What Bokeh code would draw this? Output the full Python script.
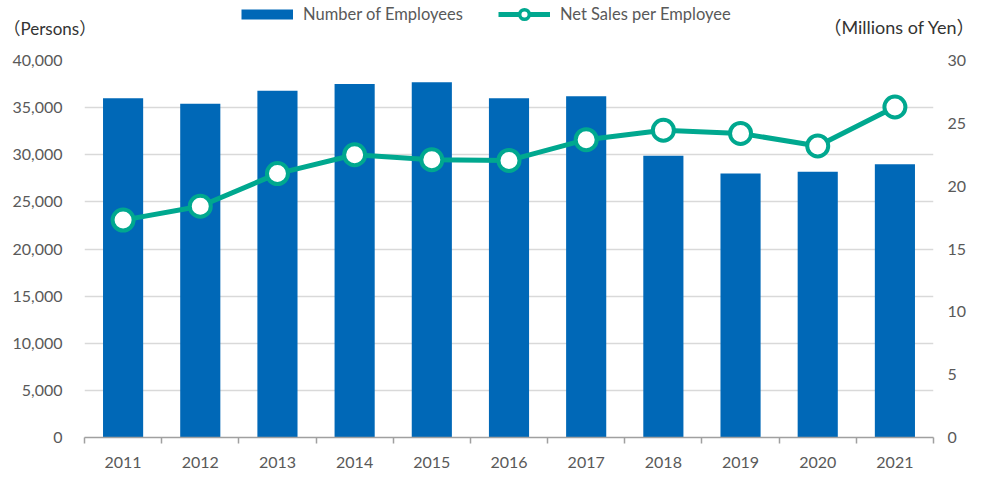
from bokeh.plotting import figure
from bokeh.layouts import column
from bokeh.models import (Range1d, LinearAxis, FixedTicker, NumeralTickFormatter,
                          Legend, LegendItem, Label, ColumnDataSource)
from bokeh.embed import file_html
from bokeh.resources import INLINE

# ---- data ----
years = [2011, 2012, 2013, 2014, 2015, 2016, 2017, 2018, 2019, 2020, 2021]
year_labels = ["2011", "2012", "2013", "2014", "2015", "2016", "2017", "2018", "2019", "2020", "2021"]
employees = [36000, 35400, 36800, 37500, 37700, 36000, 36200, 29900, 28000, 28200, 29000]
sales_per_employee = [17.3, 18.4, 21.0, 22.5, 22.1, 22.05, 23.7, 24.45, 24.2, 23.2, 26.3]
left_ticks = [0, 5000, 10000, 15000, 20000, 25000, 30000, 35000, 40000]
right_ticks = [0, 5, 10, 15, 20, 25, 30]
bar_name = "Number of Employees"
line_name = "Net Sales per Employee"
left_title = "（Persons）"
right_title = "（Millions of Yen）"

BLUE = "#0068b7"
TEAL = "#00a88f"
GRID = "#d9d9d9"
AXIS = "#a0a0a0"
TXT = "#595959"
TITLE_TXT = "#333333"
FONT = "Lato"
TITLE_FONT = "Lato, 'Noto Sans CJK JP'"
NAN = float("nan")

W = 976
HEAD_H = 44
MAIN_H = 426

# ---------------- header (legend + axis titles) ----------------
head = figure(width=W, height=HEAD_H, output_backend="svg", toolbar_location=None,
              x_range=Range1d(0, W), y_range=Range1d(0, HEAD_H),
              x_axis_location=None, y_axis_location=None,
              min_border_left=0, min_border_right=0, min_border_top=0, min_border_bottom=0)
head.outline_line_color = None
head.xgrid.visible = False
head.ygrid.visible = False
head.border_fill_color = "white"
head.background_fill_color = "white"

# legend-only proxies (NaN data: nothing is drawn in the plot area)
bar_proxy = head.line(x=[NAN], y=[NAN], line_color=BLUE, line_width=10)
line_proxy = head.line(x=[NAN], y=[NAN], line_color=TEAL, line_width=5)
pt_proxy = head.scatter(x=[NAN], y=[NAN], size=10, fill_color="white",
                        line_color=TEAL, line_width=3.5)

legend = Legend(items=[LegendItem(label=bar_name, renderers=[bar_proxy]),
                       LegendItem(label=line_name, renderers=[line_proxy, pt_proxy])],
                location=(241, HEAD_H - 26), orientation="horizontal",
                glyph_width=52, glyph_height=24, label_height=24,
                label_standoff=10, spacing=35, padding=0, margin=0,
                border_line_color=None, background_fill_alpha=0,
                label_text_font=FONT, label_text_font_size="16.5px",
                label_text_color=TXT)
head.add_layout(legend)

head.add_layout(Label(x=3, y=HEAD_H - 28, x_units="screen", y_units="screen", text=left_title,
                      text_font=TITLE_FONT, text_font_size="17px",
                      text_color=TITLE_TXT, text_baseline="middle", text_align="left"))
head.add_layout(Label(x=W - 1, y=HEAD_H - 26, x_units="screen", y_units="screen", text=right_title,
                      text_font=TITLE_FONT, text_font_size="18px",
                      text_color=TITLE_TXT, text_baseline="middle", text_align="right"))

# ---------------- main chart ----------------
src = ColumnDataSource(dict(year=years, employees=employees, sales=sales_per_employee))

main = figure(width=W, height=MAIN_H, output_backend="svg", toolbar_location=None,
              x_range=Range1d(years[0] - 0.5, years[-1] + 0.5),
              y_range=Range1d(left_ticks[0], left_ticks[-1]),
              min_border_left=84, min_border_right=43, min_border_top=16, min_border_bottom=32)
main.extra_y_ranges = {"sales": Range1d(right_ticks[0], right_ticks[-1])}
main.outline_line_color = None
main.border_fill_color = "white"
main.background_fill_color = "white"

# do not align the header's frame with the chart's frame
try:
    head.frame_align = False
    main.frame_align = False
except Exception:
    pass

main.xgrid.visible = False
main.ygrid.ticker = FixedTicker(ticks=left_ticks)
main.ygrid.grid_line_color = GRID
main.ygrid.grid_line_width = 1.3

main.vbar(x="year", top="employees", width=0.52, source=src,
          fill_color=BLUE, line_color=None)
main.line(x="year", y="sales", source=src, y_range_name="sales",
          line_color=TEAL, line_width=5)
main.scatter(x="year", y="sales", source=src, y_range_name="sales",
             size=21, fill_color="white", line_color=TEAL, line_width=4)

xa = main.xaxis[0]
xa.ticker = FixedTicker(ticks=years, minor_ticks=[y - 0.5 for y in years] + [years[-1] + 0.5])
xa.major_label_overrides = {y: s for y, s in zip(years, year_labels)}
xa.major_tick_out = 0
xa.major_tick_in = 0
xa.minor_tick_out = 6
xa.minor_tick_in = 0
xa.minor_tick_line_color = AXIS
xa.minor_tick_line_width = 1.5
xa.axis_line_color = AXIS
xa.axis_line_width = 1.5
xa.major_label_standoff = 13
xa.major_label_text_font = FONT
xa.major_label_text_font_size = "16px"
xa.major_label_text_color = TXT

ya = main.yaxis[0]
ya.ticker = FixedTicker(ticks=left_ticks)
ya.formatter = NumeralTickFormatter(format="0,0")
ya.axis_line_color = None
ya.major_tick_line_color = None
ya.minor_tick_line_color = None
ya.major_tick_out = 0
ya.major_tick_in = 0
ya.major_label_standoff = 22
ya.major_label_text_font = FONT
ya.major_label_text_font_size = "16px"
ya.major_label_text_color = TXT

ra = LinearAxis(y_range_name="sales", ticker=FixedTicker(ticks=right_ticks))
ra.axis_line_color = None
ra.major_tick_line_color = None
ra.minor_tick_line_color = None
ra.major_tick_out = 0
ra.major_tick_in = 0
ra.major_label_standoff = 14
ra.major_label_text_font = FONT
ra.major_label_text_font_size = "16px"
ra.major_label_text_color = TXT
main.add_layout(ra, "right")

p = column(head, main, spacing=0)

open("out.html", "w").write(file_html(p, INLINE))
